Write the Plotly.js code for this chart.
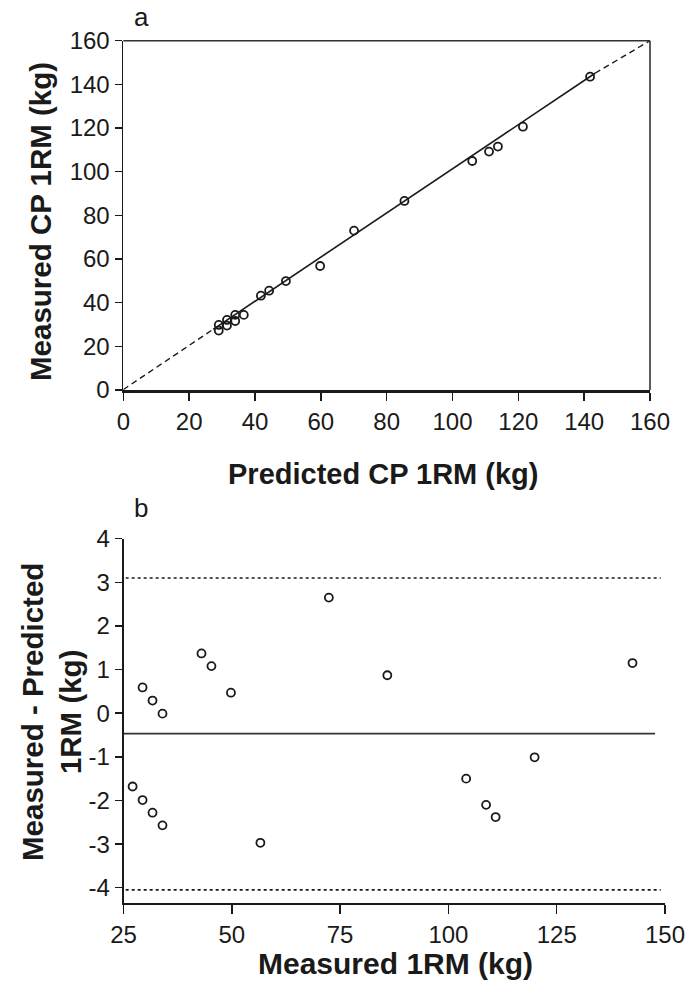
<!DOCTYPE html>
<html>
<head>
<meta charset="utf-8">
<script src="https://cdn.plot.ly/plotly-3.0.1.min.js"></script>
<style>html,body{margin:0;padding:0;background:#fff;}#chart{width:686px;height:986px;}</style>
</head>
<body>
<div id="chart"></div>
<script>
// ---- Panel a: measured vs predicted CP 1RM (kg) ----
const predictedA = [141.8, 121.4, 113.8, 111.1, 106.0, 85.4, 70.1, 59.8, 49.4, 44.3, 41.8, 36.6, 34.0, 34.0, 31.5, 31.5, 29.0, 29.0];
const measuredA  = [143.5, 120.6, 111.5, 109.2, 104.9, 86.6, 73.0, 56.8, 49.9, 45.5, 43.2, 34.4, 34.4, 31.6, 32.1, 29.5, 29.8, 27.2];
const fitX = [27.3, 143.3];
const fitY = [27.8, 145.1];
const extLowX = [0, 27.3];
const extLowY = [0.2, 27.8];
const extHighX = [143.3, 160];
const extHighY = [145.1, 160];
const ticksA = [0, 20, 40, 60, 80, 100, 120, 140, 160];

// ---- Panel b: Bland-Altman ----
const measuredB = [27.1, 29.4, 29.4, 31.7, 31.7, 34.0, 34.0, 43.0, 45.3, 49.8, 56.6, 72.4, 85.9, 104.1, 108.7, 110.9, 119.9, 142.5];
const diffB     = [-1.68, 0.59, -1.99, 0.29, -2.28, -0.01, -2.57, 1.37, 1.08, 0.47, -2.97, 2.65, 0.87, -1.50, -2.10, -2.38, -1.01, 1.15];
const biasX = [25, 147.7];
const bias = -0.47;
const limitsX = [25.5, 149];
const upperLoA = 3.1;
const lowerLoA = -4.05;
const ticksBx = [25, 50, 75, 100, 125, 150];
const ticksBy = [4, 3, 2, 1, 0, -1, -2, -3, -4];
const ticksByText = ["4", "3", "2", "1", "0", "-1", "-2", "-3", "-4"];

const FONT = "Liberation Sans, Arial, Helvetica, sans-serif";
const INK = "#1a1a1a";
const markerStyle = {symbol: "circle-open", size: 8, color: INK, line: {width: 1.8, color: INK}};

const traces = [
  {x: extLowX, y: extLowY, mode: "lines", line: {color: INK, width: 1.4, dash: "6px,4px"}, xaxis: "x", yaxis: "y", hoverinfo: "skip"},
  {x: extHighX, y: extHighY, mode: "lines", line: {color: INK, width: 1.4, dash: "6px,4px"}, xaxis: "x", yaxis: "y", hoverinfo: "skip"},
  {x: fitX, y: fitY, mode: "lines", line: {color: INK, width: 1.6}, xaxis: "x", yaxis: "y"},
  {x: predictedA, y: measuredA, mode: "markers", marker: markerStyle, xaxis: "x", yaxis: "y", cliponaxis: false},
  {x: limitsX, y: [upperLoA, upperLoA], mode: "lines", line: {color: INK, width: 1.6, dash: "dot"}, xaxis: "x2", yaxis: "y2"},
  {x: limitsX, y: [lowerLoA, lowerLoA], mode: "lines", line: {color: INK, width: 1.6, dash: "dot"}, xaxis: "x2", yaxis: "y2"},
  {x: biasX, y: [bias, bias], mode: "lines", line: {color: "#333", width: 1.8}, xaxis: "x2", yaxis: "y2"},
  {x: measuredB, y: diffB, mode: "markers", marker: markerStyle, xaxis: "x2", yaxis: "y2", cliponaxis: false}
];

const W = 686, H = 986;
const px = v => v / W;
const py = v => (H - v) / H;

const axisCommon = {
  showgrid: false, zeroline: false, showline: true, linecolor: INK,
  ticks: "outside", ticklen: 7, tickwidth: 1.5, tickcolor: INK,
  tickfont: {family: FONT, size: 24, color: INK}, fixedrange: true
};

const layout = {
  width: W, height: H,
  margin: {l: 0, r: 0, t: 0, b: 0},
  paper_bgcolor: "#fff", plot_bgcolor: "#fff",
  showlegend: false,
  font: {family: FONT, color: INK},
  xaxis: Object.assign({}, axisCommon, {domain: [px(123.3), px(650)], range: [0, 160], tickvals: ticksA, linewidth: 3, ticklen: 8, anchor: "y"}),
  yaxis: Object.assign({}, axisCommon, {domain: [py(390), py(40.7)], range: [0, 160], tickvals: ticksA, linewidth: 1.8, anchor: "x"}),
  xaxis2: Object.assign({}, axisCommon, {domain: [px(123.5), px(665)], range: [25, 150], tickvals: ticksBx, linewidth: 1.8, ticklen: 9, anchor: "y2"}),
  yaxis2: Object.assign({}, axisCommon, {domain: [py(903), py(538.7)], range: [-4.35, 4], tickvals: ticksBy, ticktext: ticksByText, linewidth: 1.8, anchor: "x2"}),
  shapes: [
    {type: "line", xref: "x domain", yref: "y domain", x0: 0, x1: 1, y0: 1, y1: 1, line: {color: "#333", width: 1.6}},
    {type: "line", xref: "x domain", yref: "y domain", x0: 1, x1: 1, y0: 0, y1: 1, line: {color: "#333", width: 1.6}}
  ],
  annotations: [
    {text: "a", x: px(141), y: py(17), xref: "paper", yref: "paper", showarrow: false, xanchor: "center", yanchor: "middle", font: {family: FONT, size: 26, color: INK}},
    {text: "b", x: px(141), y: py(508), xref: "paper", yref: "paper", showarrow: false, xanchor: "center", yanchor: "middle", font: {family: FONT, size: 26, color: INK}},
    {text: "<b>Measured CP 1RM (kg)</b>", x: px(40), y: py(222), xref: "paper", yref: "paper", showarrow: false, textangle: -90, xanchor: "center", yanchor: "middle", font: {family: FONT, size: 29.5, color: INK}},
    {text: "<b>Predicted CP 1RM (kg)</b>", x: px(383), y: py(474), xref: "paper", yref: "paper", showarrow: false, xanchor: "center", yanchor: "middle", font: {family: FONT, size: 29, color: INK}},
    {text: "<b>Measured - Predicted<br>1RM (kg)</b>", x: px(51), y: py(712), xref: "paper", yref: "paper", showarrow: false, textangle: -90, xanchor: "center", yanchor: "middle", font: {family: FONT, size: 29.5, color: INK}},
    {text: "<b>Measured 1RM (kg)</b>", x: px(395), y: py(963), xref: "paper", yref: "paper", showarrow: false, xanchor: "center", yanchor: "middle", font: {family: FONT, size: 30, color: INK}}
  ]
};

Plotly.newPlot("chart", traces, layout, {staticPlot: true, displayModeBar: false});
</script>
</body>
</html>
